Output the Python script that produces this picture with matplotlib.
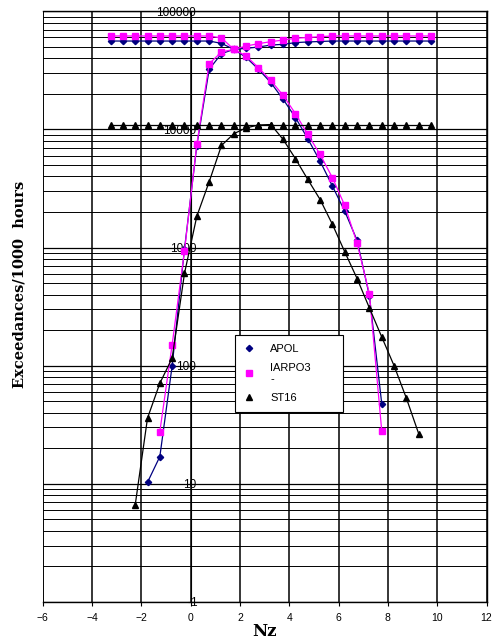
"""
Exceedance curves for APOL, IARPO3 and ST16 against Nz (log scale).
"""

import matplotlib
matplotlib.use('Agg')
import matplotlib.pyplot as plt
from matplotlib.lines import Line2D
from matplotlib.ticker import LogLocator, NullFormatter, FixedLocator

# Data
flat_x = [-3.25, -2.75, -2.25, -1.75, -1.25, -0.75, -0.25, 0.25, 0.75, 1.25,
          1.75, 2.25, 2.75, 3.25, 3.75, 4.25, 4.75, 5.25, 5.75, 6.25,
          6.75, 7.25, 7.75, 8.25, 8.75, 9.25, 9.75]
apol_flat = [56000, 56000, 56000, 56000, 56000, 56000, 56000, 56000, 56000, 53500,
             47600, 48600, 49800, 51800, 52500, 54300, 55000, 55500, 56000, 56000,
             56000, 56000, 56000, 56000, 56000, 56000, 56000]
iarpo_flat = [61800, 61800, 61800, 61800, 61800, 61800, 61800, 61800, 61800, 59500,
              47600, 50800, 53200, 55300, 57100, 59100, 60000, 61000, 61800, 61800,
              61800, 61800, 61800, 61800, 61800, 61800, 61800]
st16_flat = [11000, 11000, 11000, 11000, 11000, 11000, 11000, 11000, 11000, 11000,
             11000, 11000, 11000, 11000, 11000, 11000, 11000, 11000, 11000, 11000,
             11000, 11000, 11000, 11000, 11000, 11000, 11000]

apol_x = [-1.75, -1.25, -0.75, -0.25, 0.25, 0.75, 1.25, 1.75, 2.25, 2.75,
          3.25, 3.75, 4.25, 4.75, 5.25, 5.75, 6.25, 6.75, 7.25, 7.75]
apol_y = [10.3, 17, 100, 970, 7300, 32300, 43800, 47600, 40700, 32300,
          24900, 18000, 12600, 8340, 5380, 3310, 2030, 1150, 390, 47.6]

iarpo_x = [-1.25, -0.75, -0.25, 0.25, 0.75, 1.25, 1.75, 2.25, 2.75,
           3.25, 3.75, 4.25, 4.75, 5.25, 5.75, 6.25, 6.75, 7.25, 7.75]
iarpo_y = [27.7, 151, 940, 7460, 36000, 45200, 47600, 41800, 33300,
           26000, 19400, 13600, 9070, 6140, 3900, 2270, 1090, 405, 28]

st16_x = [-2.25, -1.75, -1.25, -0.75, -0.25, 0.25, 0.75, 1.25, 1.75, 2.25,
          2.75, 3.25, 3.75, 4.25, 4.75, 5.25, 5.75, 6.25, 6.75, 7.25,
          7.75, 8.25, 8.75, 9.25]
st16_y = [6.6, 36, 71, 116, 605, 1840, 3600, 7310, 9200, 10300,
          10900, 11000, 8230, 5650, 3770, 2550, 1570, 920, 546, 308,
          175, 100, 53, 26.5]

x_ticks = [-6, -4, -2, 0, 2, 4, 6, 8, 10, 12]
y_ticks = [1, 10, 100, 1000, 10000, 100000]
y_tick_labels = ['1', '10', '100', '1000', '10000', '100000']

series = [
    ('APOL', '#000080', 'D', 3.2, apol_flat, apol_x, apol_y),
    ('IARPO3\n-', '#FF00FF', 's', 5.0, iarpo_flat, iarpo_x, iarpo_y),
    ('ST16', 'black', '^', 4.5, st16_flat, st16_x, st16_y),
]

plt.rcParams['font.family'] = ['Liberation Sans', 'DejaVu Sans']

fig = plt.figure(figsize=(4.95, 6.41), dpi=100)
ax = fig.add_axes([0.0863, 0.0609, 0.8966, 0.9215])

ax.set_yscale('log')
ax.set_xlim(-6, 12)
ax.set_ylim(1, 100000)

# Grid: vertical every 2, horizontal at every decade and 2..9 within
ax.xaxis.set_major_locator(FixedLocator(x_ticks))
ax.yaxis.set_major_locator(FixedLocator(y_ticks))
ax.yaxis.set_minor_locator(LogLocator(base=10, subs=range(2, 10)))
ax.yaxis.set_minor_formatter(NullFormatter())
ax.set_yticklabels(y_tick_labels)
ax.grid(True, which='major', axis='x', color='black', linewidth=1.1)
ax.grid(True, which='major', axis='y', color='black', linewidth=0.9)
ax.grid(True, which='minor', axis='y', color='black', linewidth=0.7)
ax.set_axisbelow(True)

# Y axis crosses at Nz = 0, frame kept at the left edge
ax.spines['left'].set_position(('data', 0))
ax.spines['left'].set_linewidth(0.8)
ax.axvline(-6, color='black', linewidth=1.2, zorder=1)
for side in ['top', 'right', 'bottom']:
    ax.spines[side].set_linewidth(1.0)

ax.tick_params(axis='y', which='major', direction='inout', length=4,
               pad=-6, labelsize=8.5, width=0.8)
ax.tick_params(axis='y', which='minor', length=0)
ax.tick_params(axis='x', which='major', direction='out', length=3,
               pad=5, labelsize=7.5, width=0.8)
for lbl in ax.get_yticklabels():
    lbl.set_zorder(5)

for name, color, marker, ms, flat, bx, by in series:
    ax.plot(flat_x, flat, color=color, linewidth=0.9, marker=marker,
            markersize=ms, zorder=3)
    ax.plot(bx, by, color=color, linewidth=0.9, marker=marker,
            markersize=ms, zorder=3)

handles = [Line2D([], [], linestyle='none', color=c, marker=m, markersize=ms)
           for name, c, m, ms, *_ in series]
labels = [s[0] for s in series]
leg = ax.legend(handles, labels, loc='lower left',
                bbox_to_anchor=(0.433, 0.3217, 0.243, 0.144), mode='expand',
                borderaxespad=0, fontsize=8, frameon=True, fancybox=False,
                edgecolor='black', framealpha=1, handlelength=1.0,
                handletextpad=1.4, borderpad=0.8, labelspacing=0.8)
leg.get_frame().set_linewidth(0.8)
leg.set_zorder(6)

ax.set_xlabel('Nz', family='DejaVu Serif', fontweight='bold', fontsize=12,
              labelpad=0)
fig.text(0.04, 0.557, 'Exceedances/1000  hours', family='DejaVu Serif',
         fontweight='bold', fontsize=10.5, rotation=90, ha='center',
         va='center')

fig.savefig('out.png', dpi=100)
